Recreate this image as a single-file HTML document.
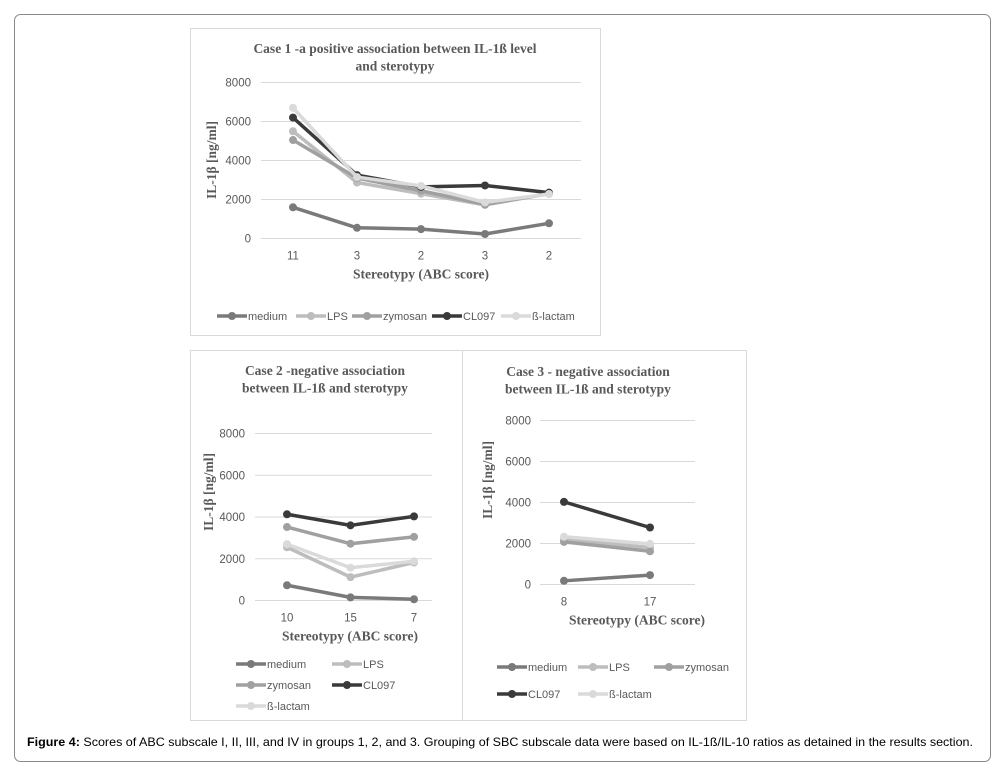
<!DOCTYPE html>
<html><head><meta charset="utf-8">
<style>
body{margin:0;background:#fff;}
svg{display:block;font-family:"Liberation Sans",Arial,sans-serif;}
.tt{font-family:"Liberation Serif",serif;font-weight:bold;fill:#595959;}
.tick{font-size:11.5px;fill:#595959;}
.leg{font-size:11px;fill:#595959;}
</style></head>
<body>
<svg id="fig" width="1004" height="772" viewBox="0 0 1004 772">
<rect x="14.5" y="14.5" width="976" height="747" rx="6" fill="#fff" stroke="#888" stroke-width="1"/>
<text x="27" y="746" font-size="12" fill="#000" textLength="946" lengthAdjust="spacingAndGlyphs"><tspan font-weight="bold">Figure 4:</tspan> Scores of ABC subscale I, II, III, and IV in groups 1, 2, and 3.  Grouping of SBC subscale data were based on IL-1ß/IL-10 ratios as detained in the results section.</text>
</svg>
<script>
const seriesNames=["medium","LPS","zymosan","CL097","ß-lactam"];
const seriesColors=["#7a7a7a","#bdbdbd","#a0a0a0","#3a3a3a","#dadada"];
const yTicks=[0,2000,4000,6000,8000];
const c1Cats=["11","3","2","3","2"];
const c1Medium=[1600,550,480,230,780];
const c1LPS=[5500,2870,2300,1720,2300];
const c1Zymosan=[5050,3100,2450,1750,2300];
const c1CL097=[6200,3250,2650,2720,2350];
const c1Lactam=[6700,3150,2700,1850,2280];
const c2Cats=["10","15","7"];
const c2Medium=[730,150,60];
const c2LPS=[2550,1120,1820];
const c2Zymosan=[3520,2720,3050];
const c2CL097=[4130,3600,4030];
const c2Lactam=[2700,1570,1880];
const c3Cats=["8","17"];
const c3Medium=[180,460];
const c3LPS=[2200,1800];
const c3Zymosan=[2080,1620];
const c3CL097=[4030,2780];
const c3Lactam=[2330,1980];

const NS="http://www.w3.org/2000/svg";
const svg=document.getElementById('fig');
function mk(tag,attrs,parent,txt){const e=document.createElementNS(NS,tag);for(const k in attrs)e.setAttribute(k,attrs[k]);if(txt!==undefined)e.textContent=txt;(parent||svg).appendChild(e);return e;}

function chart(cfg){
  const g=mk('g',{});
  
  
  const p=mk('rect',{x:cfg.px,y:cfg.py,width:cfg.pw,height:cfg.ph,fill:'#fff',stroke:'#d9d9d9'},g);
  
  
  cfg.title.forEach((t,i)=>{
    const e=mk('text',{x:cfg.tx,y:cfg.ty+i*17.5,'text-anchor':'middle','font-size':13.5,class:'tt'},g,t);
    
    
  });
  const ymax=8000;
  const ys=v=>cfg.y0-(v/ymax)*(cfg.y0-cfg.y8);
  const n=cfg.cats.length;
  const xs=i=>n>1?cfg.cx0+(cfg.cx1-cfg.cx0)*i/(n-1):(cfg.cx0+cfg.cx1)/2;
  yTicks.forEach(t=>{
    const l=mk('line',{x1:cfg.gx0,x2:cfg.gx1,y1:ys(t),y2:ys(t),stroke:'#d9d9d9','stroke-width':1},g);
    
    
    const tx=mk('text',{x:cfg.tickR,y:ys(t)+4,'text-anchor':'end',class:'tick'},g,String(t));
    
    
  });
  cfg.cats.forEach((c,i)=>{
    const tx=mk('text',{x:xs(i),y:cfg.y0+21,'text-anchor':'middle',class:'tick'},g,c);
    
    
  });
  const xt=mk('text',{x:cfg.xtx,y:cfg.y0+40,'text-anchor':'middle','font-size':13.5,class:'tt'},g,'Stereotypy (ABC score)');
  
  
  const yc=cfg.yty;
  const yt=mk('text',{x:cfg.ytx,y:yc,'text-anchor':'middle','font-size':13.5,class:'tt',transform:`rotate(-90 ${cfg.ytx} ${yc})`},g,'IL-1β [ng/ml]');
  
  
  cfg.series.forEach((vals,si)=>{
    const col=seriesColors[si];
    const pl=mk('polyline',{points:vals.map((v,i)=>xs(i)+','+ys(v)).join(' '),fill:'none',stroke:col,'stroke-width':3.5,'stroke-linejoin':'round'},g);
    
    
    vals.forEach((v,i)=>{
      const c=mk('circle',{cx:xs(i),cy:ys(v),r:4,fill:col},g);
      
      
    });
  });
  cfg.leg.forEach((pos,si)=>{
    const col=seriesColors[si];
    const lg=mk('g',{},g);
    
    
    mk('line',{x1:pos[0],x2:pos[0]+30,y1:pos[1],y2:pos[1],stroke:col,'stroke-width':3.5},lg);
    mk('circle',{cx:pos[0]+15,cy:pos[1],r:4,fill:col},lg);
    mk('text',{x:pos[0]+31,y:pos[1]+4,class:'leg'},lg,seriesNames[si]);
  });
}

chart({name:'chart-case-1',px:190.5,py:28.5,pw:410,ph:307,title:['Case 1 -a positive association between IL-1ß level','and sterotypy'],tx:395,ty:53,
  y0:238.5,y8:82.5,gx0:261,gx1:581,cx0:293,cx1:549,tickR:251,cats:c1Cats,series:[c1Medium,c1LPS,c1Zymosan,c1CL097,c1Lactam],
  xtx:421,ytx:216,yty:160,leg:[[217,316],[296,316],[352,316],[432,316],[501,316]]});
chart({name:'chart-case-2',px:190.5,py:350.5,pw:272,ph:370,title:['Case 2 -negative association','between IL-1ß and sterotypy'],tx:325,ty:375,
  y0:600.5,y8:433.5,gx0:255,gx1:432,cx0:287,cx1:414,tickR:245,cats:c2Cats,series:[c2Medium,c2LPS,c2Zymosan,c2CL097,c2Lactam],
  xtx:350,ytx:213,yty:492,leg:[[236,664],[332,664],[236,685],[332,685],[236,706]]});
chart({name:'chart-case-3',px:462.5,py:350.5,pw:284,ph:370,title:['Case 3 - negative association','between IL-1ß and sterotypy'],tx:588,ty:376,
  y0:584.5,y8:420.5,gx0:540,gx1:695,cx0:564,cx1:650,tickR:531,cats:c3Cats,series:[c3Medium,c3LPS,c3Zymosan,c3CL097,c3Lactam],
  xtx:637,ytx:492,yty:480,leg:[[497,667],[578,667],[654,667],[497,694],[578,694]]});
</script>
</body></html>
